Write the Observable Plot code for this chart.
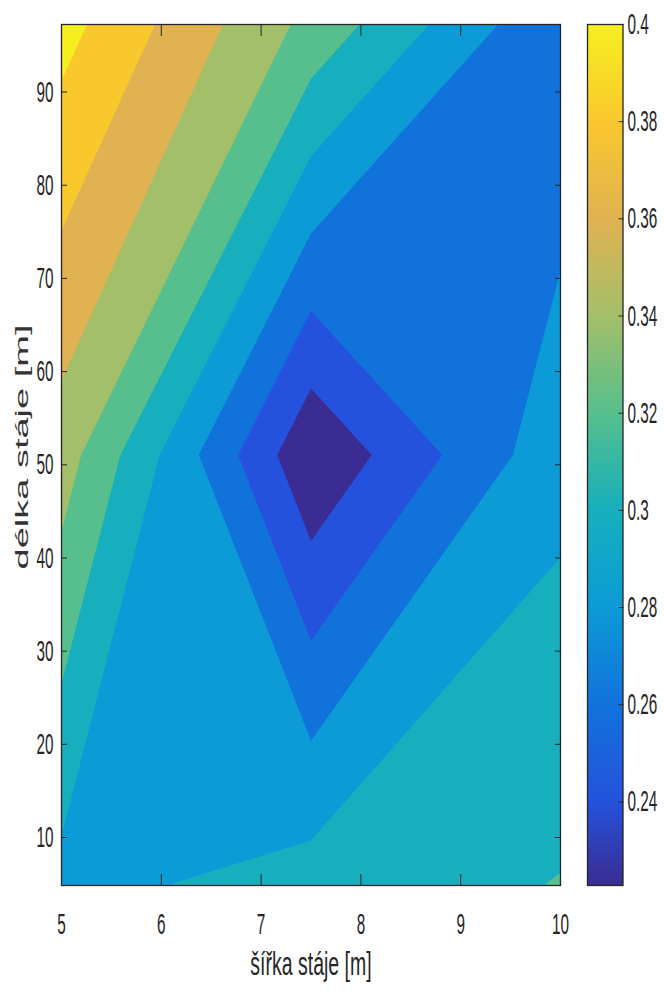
<!DOCTYPE html>
<html>
<head>
<meta charset="utf-8">
<script src="https://cdn.jsdelivr.net/npm/d3@7"></script>
<script src="https://cdn.jsdelivr.net/npm/@observablehq/plot@0.6"></script>
<style>
  html, body { margin: 0; padding: 0; background: #ffffff; }
  #wrap { position: relative; width: 664px; height: 992px; overflow: hidden; background: #ffffff; }
  #wrap svg { position: absolute; top: 0; }
</style>
</head>
<body>
<div id="wrap"></div>
<script>
// ---- data: 3x3 grid (šířka x délka) ----
const xs = [5, 7.5, 10];                 // šířka stáje [m]
const ys = [4.85, 51.05, 97.25];         // délka stáje [m]
const zBottom = [0.2935, 0.309, 0.3208]; // row at ys[0]
const zMiddle = [0.350, 0.2228, 0.2935]; // row at ys[1]
const zTop    = [0.4075, 0.334, 0.262];  // row at ys[2]

// contour levels and colour bar range
const zMin = 0.2228;
const zMax = 0.40;
const levels = [zMin, 0.24, 0.26, 0.28, 0.30, 0.32, 0.34, 0.36, 0.38, 0.40];
const levelColors = ["#3a2c93", "#2552dc", "#1272dc", "#0c9bd6", "#17afbd",
                     "#56bf8d", "#a4bf69", "#e0b252", "#f9c82d", "#f6ef20"];

// ticks and labels
const xTicks = [5, 6, 7, 8, 9, 10];
const yTicks = [10, 20, 30, 40, 50, 60, 70, 80, 90];
const cbTicks = [0.24, 0.26, 0.28, 0.30, 0.32, 0.34, 0.36, 0.38, 0.40];
const xLabel = "šířka stáje [m]";
const yLabel = "délka stáje [m]";

// ---- build ----
const values = [...zBottom, ...zMiddle, ...zTop];
const gx = (xs[1] - xs[0]) / 2, gy = (ys[1] - ys[0]) / 2;
const ink = "#262626";
const font = "'Liberation Sans', Arial, Helvetica, sans-serif";
const colorScale = {type: "linear", domain: levels, range: levelColors, interpolate: "rgb", clamp: true};

const main = Plot.plot({
  width: 575, height: 992,
  marginLeft: 61, marginRight: 15, marginTop: 24, marginBottom: 107,
  x: {domain: [xs[0], xs[2]], label: null},
  y: {domain: [ys[0], ys[2]], label: null},
  color: colorScale,
  style: {fontFamily: font, fontSize: "15.3px", color: ink, background: "transparent", overflow: "visible"},
  marks: [
    Plot.contour(values, {
      width: 3, height: 3,
      x1: xs[0] - gx, x2: xs[2] + gx, y1: ys[0] - gy, y2: ys[2] + gy,
      fill: Plot.identity, thresholds: levels, stroke: "none", clip: true
    }),
    Plot.frame({stroke: ink, strokeWidth: 1.3}),
    Plot.axisX(xTicks, {anchor: "bottom", tickSize: -11, tickPadding: 38, stroke: ink, fill: ink, label: null}),
    Plot.axisX(xTicks, {anchor: "top", tickSize: -11, stroke: ink, fill: "none", label: null}),
    Plot.axisY(yTicks, {anchor: "left", tickSize: -6, tickPadding: 14, stroke: ink, fill: ink, label: null}),
    Plot.axisY(yTicks, {anchor: "right", tickSize: -6, stroke: ink, fill: "none", label: null}),
    Plot.text([xLabel], {text: d => d, frameAnchor: "bottom", textAnchor: "middle", dy: 89, fontSize: 19.5, fill: ink}),
    Plot.text([yLabel], {text: d => d, frameAnchor: "left", textAnchor: "middle", dx: -40, dy: -8, rotate: -90, fontSize: 19, fill: "#333333"})
  ]
});

const cbar = Plot.plot({
  width: 89, height: 992,
  marginLeft: 12, marginRight: 41.5, marginTop: 24, marginBottom: 107,
  x: {domain: [0, 1], axis: null},
  y: {domain: [zMin, zMax], label: null},
  color: colorScale,
  style: {fontFamily: font, fontSize: "15.3px", color: ink, background: "transparent", overflow: "visible"},
  marks: [
    Plot.raster({fill: (x, y) => y, x1: 0, x2: 1, y1: zMin, y2: zMax, imageRendering: "auto"}),
    Plot.frame({stroke: ink, strokeWidth: 1.3}),
    Plot.axisY(cbTicks, {anchor: "right", tickSize: -5, tickPadding: 9.5, stroke: ink, fill: ink, tickFormat: d3.format("~g"), label: null})
  ]
});

const wrap = document.getElementById("wrap");
main.style.left = "0px";
cbar.style.left = "575px";
wrap.appendChild(main);
wrap.appendChild(cbar);

// MATLAB figure was stretched vertically: stretch the glyphs the same way
function stretchEl(t, sx, sy) {
  const tr = t.getAttribute("transform");
  if (tr) t.setAttribute("transform", tr + ` scale(${sx},${sy})`);
  else {
    const x = +t.getAttribute("x") || 0, y = +t.getAttribute("y") || 0;
    t.removeAttribute("x"); t.removeAttribute("y");
    t.setAttribute("transform", `translate(${x},${y}) scale(${sx},${sy})`);
  }
}
function stretch(root, selector, sx, sy) {
  root.querySelectorAll(selector).forEach(t => stretchEl(t, sx, sy));
}
stretch(main, 'g[aria-label="x-axis tick label"] text', 1, 1.95);
stretch(main, 'g[aria-label="y-axis tick label"] text', 1, 1.95);
stretch(cbar, 'g[aria-label="y-axis tick label"] text', 1, 1.95);
main.querySelectorAll("text").forEach(t => {
  if (t.textContent === xLabel) stretchEl(t, 1, 1.7);
  else if (t.textContent === yLabel) stretchEl(t, 2.0, 1);
});
</script>
</body>
</html>
